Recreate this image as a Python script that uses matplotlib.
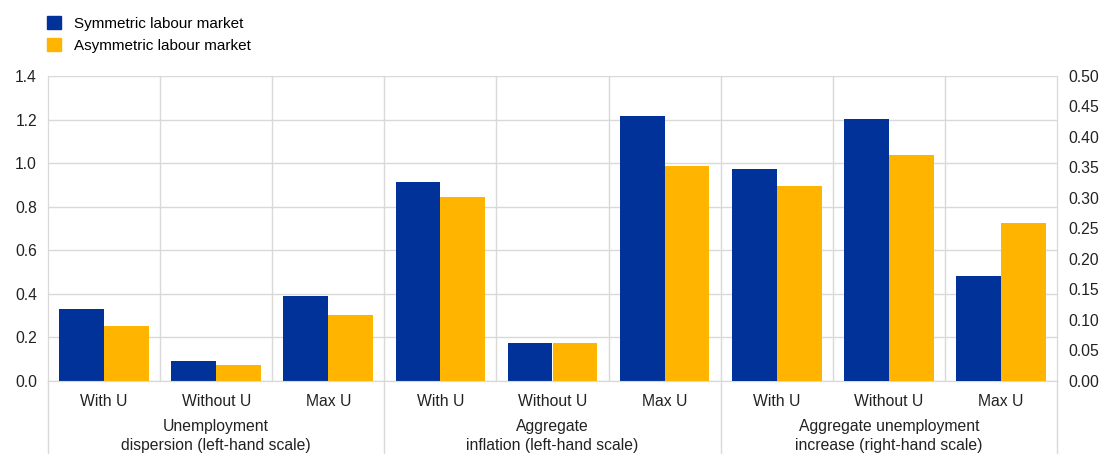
import matplotlib
matplotlib.use("Agg")
import matplotlib.pyplot as plt
import matplotlib.transforms as mtransforms
from matplotlib.patches import Patch

plt.rcParams['font.family'] = ['Liberation Sans', 'DejaVu Sans']

categories = ["With U", "Without U", "Max U"] * 3
groups = ["Unemployment\ndispersion (left-hand scale)",
          "Aggregate\ninflation (left-hand scale)",
          "Aggregate unemployment\nincrease (right-hand scale)"]
symmetric = [0.33, 0.093, 0.39, 0.915, 0.176, 1.215, 0.347, 0.429, 0.172]
asymmetric = [0.253, 0.074, 0.302, 0.846, 0.176, 0.988, 0.319, 0.370, 0.259]
left_ticks = [0.0, 0.2, 0.4, 0.6, 0.8, 1.0, 1.2, 1.4]
right_ticks = [0.0, 0.05, 0.10, 0.15, 0.20, 0.25, 0.30, 0.35, 0.40, 0.45, 0.50]

blue = "#003299"
orange = "#FFB400"
grid = "#d9d9d9"

fig = plt.figure(figsize=(11.03, 4.54), dpi=100)
ax = fig.add_axes([48 / 1103, 73 / 454, (1057 - 48) / 1103, 305 / 454])
ax2 = ax.twinx()

w = 0.4
x = list(range(len(categories)))
for i in x:
    target = ax if i < 6 else ax2
    target.bar(i - w / 2, symmetric[i], w, color=blue, zorder=3)
    target.bar(i + w / 2, asymmetric[i], w, color=orange, zorder=3)

ax.set_xlim(-0.5, len(categories) - 0.5)
ax.set_ylim(0, 1.4)
ax2.set_ylim(0, 0.5)
ax.set_yticks(left_ticks)
ax.set_yticklabels(["%.1f" % v for v in left_ticks])
ax2.set_yticks(right_ticks)
ax2.set_yticklabels(["%.2f" % v for v in right_ticks])

ax.set_xticks(x)
ax.set_xticklabels(categories)
ax.tick_params(axis="both", length=0, labelsize=11.3, colors="#222222", pad=8)
ax2.tick_params(axis="y", length=0, labelsize=11.3, colors="#222222", pad=8)
ax.tick_params(axis="x", pad=9)

ax.grid(axis="y", color=grid, linewidth=1, zorder=0)
ax.set_axisbelow(True)
ax.spines["top"].set_visible(False)
ax2.spines["top"].set_visible(False)
for a in (ax, ax2):
    for s in ["left", "right", "bottom"]:
        a.spines[s].set_color(grid)

# vertical separators between categories
trans = mtransforms.blended_transform_factory(ax.transData, ax.transAxes)
for i in range(1, len(categories)):
    bottom = -0.24 if i % 3 == 0 else 0
    ax.plot([i - 0.5, i - 0.5], [bottom, 1], color=grid, lw=1,
            transform=trans, clip_on=False, zorder=1)
for xe in (-0.5, len(categories) - 0.5):
    ax.plot([xe, xe], [-0.24, 0], color=grid, lw=1,
            transform=trans, clip_on=False)

for g, label in enumerate(groups):
    ax.text(g * 3 + 1, -0.125, label, transform=trans, ha="center", va="top",
            fontsize=11.3, color="#222222", linespacing=1.3)

handles = [Patch(color=blue, label="Symmetric labour market"),
           Patch(color=orange, label="Asymmetric labour market")]
fig.legend(handles=handles, loc="upper left", bbox_to_anchor=(33 / 1103, 0.995),
           frameon=False, fontsize=11, handlelength=0.9, handleheight=0.9,
           handletextpad=0.9, labelspacing=0.5)

fig.savefig("out.png", dpi=100)
